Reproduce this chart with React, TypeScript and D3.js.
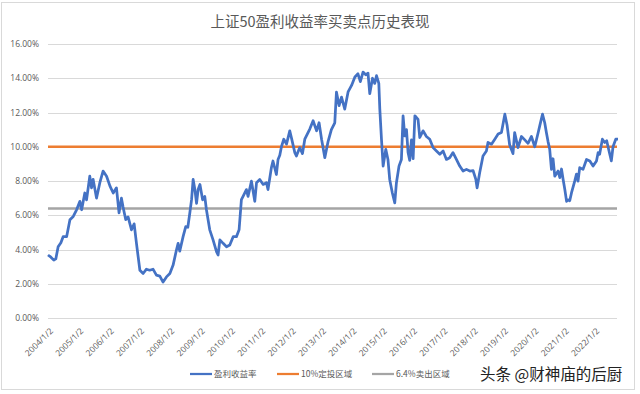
import { useEffect, useRef } from "react";
import * as d3 from "d3";

const title = "上证50盈利收益率买卖点历史表现";

const dates = [
  "2004-01-02", "2004-02-06", "2004-03-12", "2004-04-05", "2004-05-03", "2004-06-05", "2004-07-02", "2004-08-13",
  "2004-09-22", "2004-11-01", "2004-12-11", "2005-01-20", "2005-02-10", "2005-03-20", "2005-04-10", "2005-05-19",
  "2005-06-09", "2005-06-28", "2005-08-08", "2005-09-17", "2005-10-26", "2005-12-07", "2006-01-17", "2006-02-25",
  "2006-04-05", "2006-05-06", "2006-06-04", "2006-06-23", "2006-07-26", "2006-08-23", "2006-10-03", "2006-11-04",
  "2006-12-02", "2006-12-22", "2007-01-12", "2007-02-20", "2007-04-01", "2007-05-10", "2007-06-19", "2007-07-30",
  "2007-09-09", "2007-10-18", "2007-11-28", "2008-01-08", "2008-02-16", "2008-03-27", "2008-04-16", "2008-05-06",
  "2008-06-15", "2008-07-17", "2008-08-11", "2008-09-04", "2008-09-25", "2008-10-14", "2008-11-04", "2008-11-24",
  "2008-12-13", "2009-01-04", "2009-02-05", "2009-03-03", "2009-03-23", "2009-05-02", "2009-06-11", "2009-07-22",
  "2009-08-10", "2009-09-01", "2009-10-10", "2009-11-20", "2009-12-29", "2010-02-08", "2010-03-19", "2010-04-20",
  "2010-05-18", "2010-06-07", "2010-07-17", "2010-08-06", "2010-09-16", "2010-10-26", "2010-11-16", "2010-12-25",
  "2011-02-04", "2011-03-15", "2011-04-03", "2011-05-14", "2011-06-02", "2011-07-13", "2011-08-02", "2011-08-23",
  "2011-09-12", "2011-10-10", "2011-11-12", "2011-12-21", "2012-01-11", "2012-02-20", "2012-03-10", "2012-04-19",
  "2012-05-22", "2012-06-19", "2012-08-18", "2012-09-27", "2012-11-08", "2012-12-08", "2013-01-07", "2013-02-15",
  "2013-03-26", "2013-05-05", "2013-06-15", "2013-07-05", "2013-08-06", "2013-09-04", "2013-10-13", "2013-11-22",
  "2014-01-03", "2014-02-12", "2014-03-21", "2014-04-19", "2014-05-21", "2014-06-23", "2014-07-20", "2014-08-10",
  "2014-09-12", "2014-10-09", "2014-10-30", "2014-11-27", "2014-12-09", "2014-12-29", "2015-01-18", "2015-02-19",
  "2015-03-17", "2015-04-07", "2015-05-09", "2015-06-07", "2015-06-27", "2015-07-28", "2015-08-26", "2015-09-15",
  "2015-10-05", "2015-10-26", "2015-11-14", "2015-12-04", "2015-12-25", "2016-01-14", "2016-02-04", "2016-03-13",
  "2016-04-03", "2016-05-12", "2016-06-22", "2016-08-01", "2016-09-10", "2016-10-21", "2016-11-30", "2017-01-09",
  "2017-02-18", "2017-03-29", "2017-05-08", "2017-06-18", "2017-07-28", "2017-09-06", "2017-10-17", "2017-11-26",
  "2018-01-05", "2018-02-07", "2018-02-22", "2018-03-25", "2018-05-04", "2018-06-14", "2018-07-03", "2018-08-14",
  "2018-09-23", "2018-11-02", "2018-12-12", "2019-01-22", "2019-02-18", "2019-03-21", "2019-04-30", "2019-05-20",
  "2019-06-29", "2019-08-10", "2019-09-19", "2019-10-28", "2019-12-08", "2020-01-17", "2020-02-26", "2020-03-17",
  "2020-04-19", "2020-05-16", "2020-06-06", "2020-06-25", "2020-07-15", "2020-08-05", "2020-08-24", "2020-09-14",
  "2020-10-24", "2020-11-14", "2020-12-04", "2020-12-23", "2021-01-13", "2021-02-03", "2021-02-22", "2021-03-13",
  "2021-04-03", "2021-05-12", "2021-06-02", "2021-06-21", "2021-07-11", "2021-08-20", "2021-10-01", "2021-11-10",
  "2021-12-19", "2022-01-29", "2022-02-18", "2022-03-08", "2022-04-10", "2022-05-08", "2022-06-01", "2022-06-29",
  "2022-07-27", "2022-08-16", "2022-09-18", "2022-10-15",
];

// 盈利收益率 (%)
const earningsYield = [
  3.68, 3.55, 3.38, 3.45, 4.16, 4.4, 4.75, 4.75,
  5.74, 5.93, 6.32, 6.81, 6.32, 7.3, 6.9, 8.28,
  7.6, 8.1, 7.0, 7.9, 8.58, 8.28, 7.7, 7.3,
  7.6, 6.14, 7.0, 6.5, 5.74, 5.9, 5.15, 5.5,
  4.36, 3.58, 2.79, 2.6, 2.85, 2.79, 2.85, 2.5,
  2.45, 2.1, 2.4, 2.6, 3.09, 3.97, 4.36, 3.9,
  4.75, 5.34, 5.3, 6.13, 6.91, 8.09, 7.5, 6.7,
  7.5, 7.8, 6.9, 7.1, 6.32, 5.15, 4.56, 3.87,
  3.68, 4.56, 4.36, 4.16, 4.26, 4.75, 4.75, 5.15,
  6.91, 7.1, 7.5, 7.1, 7.99, 6.81, 7.9, 8.09,
  7.8, 7.9, 7.5, 8.78, 9.17, 8.38, 9.26, 9.5,
  10.0, 10.44, 10.15, 10.93, 10.5, 9.66, 9.46, 9.95,
  9.6, 10.44, 11.03, 11.52, 10.93, 11.4, 10.44, 9.36,
  10.3, 11.0, 11.4, 13.19, 12.4, 12.9, 12.2, 13.2,
  13.58, 14.07, 14.26, 13.8, 14.36, 14.2, 14.3, 13.1,
  14.0, 13.7, 14.15, 13.7, 12.2, 10.44, 8.87, 9.85,
  9.26, 8.09, 7.3, 6.72, 7.9, 8.87, 9.26, 11.81,
  10.63, 11.0, 9.66, 9.2, 10.4, 9.3, 11.81, 11.6,
  10.54, 10.93, 10.6, 10.44, 9.95, 9.75, 9.56, 9.75,
  9.26, 9.36, 9.66, 9.26, 8.87, 8.58, 8.68, 8.58,
  8.6, 8.09, 7.6, 8.48, 9.46, 9.75, 10.25, 10.15,
  10.44, 10.74, 10.83, 11.9, 11.25, 10.1, 9.6, 10.83,
  9.95, 10.6, 10.4, 10.2, 10.6, 10.0, 10.8, 11.22,
  11.9, 11.4, 10.8, 10.3, 9.85, 8.68, 9.3, 8.28,
  8.58, 8.2, 8.7, 8.1, 7.5, 6.81, 6.9, 6.85,
  7.3, 7.99, 8.4, 7.99, 8.78, 8.68, 9.26, 9.17,
  8.87, 9.17, 9.66, 9.56, 10.44, 10.25, 10.35, 9.75,
  9.17, 10.0, 10.44, 10.44,
];

const buyLevel = 10; // 10%定投区域
const sellLevel = 6.4; // 6.4%卖出区域

const yTicks = [0, 2, 4, 6, 8, 10, 12, 14, 16];
const xTickLabels = [
  "2004/1/2", "2005/1/2", "2006/1/2", "2007/1/2", "2008/1/2", "2009/1/2", "2010/1/2",
  "2011/1/2", "2012/1/2", "2013/1/2", "2014/1/2", "2015/1/2", "2016/1/2", "2017/1/2",
  "2018/1/2", "2019/1/2", "2020/1/2", "2021/1/2", "2022/1/2",
];

const legendItems = [
  { name: "盈利收益率", color: "#4472C4" },
  { name: "10%定投区域", color: "#ED7D31" },
  { name: "6.4%卖出区域", color: "#A5A5A5" },
];

export default function App() {
  const svgRef = useRef<SVGSVGElement>(null);
  const width = 640;
  const height = 394;

  useEffect(() => {
    const margin = { top: 44, right: 22, bottom: 76, left: 48 };
    const svg = d3.select(svgRef.current);
    svg.selectAll("*").remove();

    const parse = d3.timeParse("%Y-%m-%d");
    const parseTick = d3.timeParse("%Y/%m/%d");
    const points = dates.map((d, i) => ({ date: parse(d) as Date, value: earningsYield[i] }));

    const x = d3
      .scaleTime()
      .domain([parse(dates[0]) as Date, parse(dates[dates.length - 1]) as Date])
      .range([margin.left, width - margin.right]);

    const y = d3
      .scaleLinear()
      .domain([0, 16])
      .range([height - margin.bottom, margin.top]);

    const font = "'Open Sans', 'Noto Sans CJK SC', sans-serif";
    const cjk = "'Noto Sans CJK SC', sans-serif";

    svg.append("rect").attr("width", width).attr("height", height).attr("fill", "#fff");
    svg
      .append("rect")
      .attr("x", 1.5)
      .attr("y", 2.5)
      .attr("width", 633)
      .attr("height", 387)
      .attr("fill", "none")
      .attr("stroke", "#d9d9d9");

    svg
      .append("text")
      .attr("x", 320)
      .attr("y", 27)
      .attr("text-anchor", "middle")
      .attr("font-family", cjk)
      .attr("font-size", 14.5)
      .attr("fill", "#595959")
      .text(title);

    // y grid + labels
    const gy = svg.append("g");
    gy.selectAll("line")
      .data(yTicks)
      .enter()
      .append("line")
      .attr("x1", margin.left)
      .attr("x2", width - margin.right - 1)
      .attr("y1", (d) => Math.round(y(d)) + 0.5)
      .attr("y2", (d) => Math.round(y(d)) + 0.5)
      .attr("stroke", "#d9d9d9")
      .attr("stroke-width", 1);
    gy.selectAll("text")
      .data(yTicks)
      .enter()
      .append("text")
      .attr("x", 39)
      .attr("y", (d) => y(d) + 3)
      .attr("text-anchor", "end")
      .attr("font-family", font)
      .attr("font-size", 8.5)
      .attr("fill", "#595959")
      .text((d) => d3.format(".2f")(d) + "%");

    // x labels
    const gx = svg.append("g");
    gx.selectAll("text")
      .data(xTickLabels)
      .enter()
      .append("text")
      .attr("transform", (d) => `translate(${x(parseTick(d) as Date) + 4},${height - margin.bottom + 12}) rotate(-45)`)
      .attr("text-anchor", "end")
      .attr("dominant-baseline", "middle")
      .attr("font-family", font)
      .attr("font-size", 8.5)
      .attr("fill", "#595959")
      .text((d) => d);

    const level = (v: number, color: string) =>
      svg
        .append("line")
        .attr("x1", margin.left)
        .attr("x2", width - margin.right - 1)
        .attr("y1", y(v))
        .attr("y2", y(v))
        .attr("stroke", color)
        .attr("stroke-width", 2.5);

    level(sellLevel, "#A5A5A5");
    level(buyLevel, "#ED7D31");

    const line = d3
      .line<{ date: Date; value: number }>()
      .x((d) => x(d.date))
      .y((d) => y(d.value));

    svg
      .append("path")
      .datum(points)
      .attr("d", line)
      .attr("fill", "none")
      .attr("stroke", "#4472C4")
      .attr("stroke-width", 2.75)
      .attr("stroke-linejoin", "round");

    // legend
    const legendX = [190, 277, 372];
    const lg = svg.append("g");
    legendItems.forEach((item, i) => {
      const g = lg.append("g").attr("transform", `translate(${legendX[i]},374)`);
      g.append("line")
        .attr("x1", 0)
        .attr("x2", 22)
        .attr("stroke", item.color)
        .attr("stroke-width", 2.25);
      g.append("text")
        .attr("x", 24)
        .attr("y", 3)
        .attr("font-family", cjk)
        .attr("font-size", 8.5)
        .attr("fill", "#595959")
        .text(item.name);
    });

    svg
      .append("text")
      .attr("x", 480)
      .attr("y", 380)
      .attr("font-family", cjk)
      .attr("font-size", 15.5)
      .attr("fill", "#222")
      .text("头条 @财神庙的后厨");
  }, []);

  return (
    <div style={{ position: "absolute", left: 0, top: 0 }}>
      <svg ref={svgRef} width={width} height={height} style={{ display: "block" }}></svg>
    </div>
  );
}
